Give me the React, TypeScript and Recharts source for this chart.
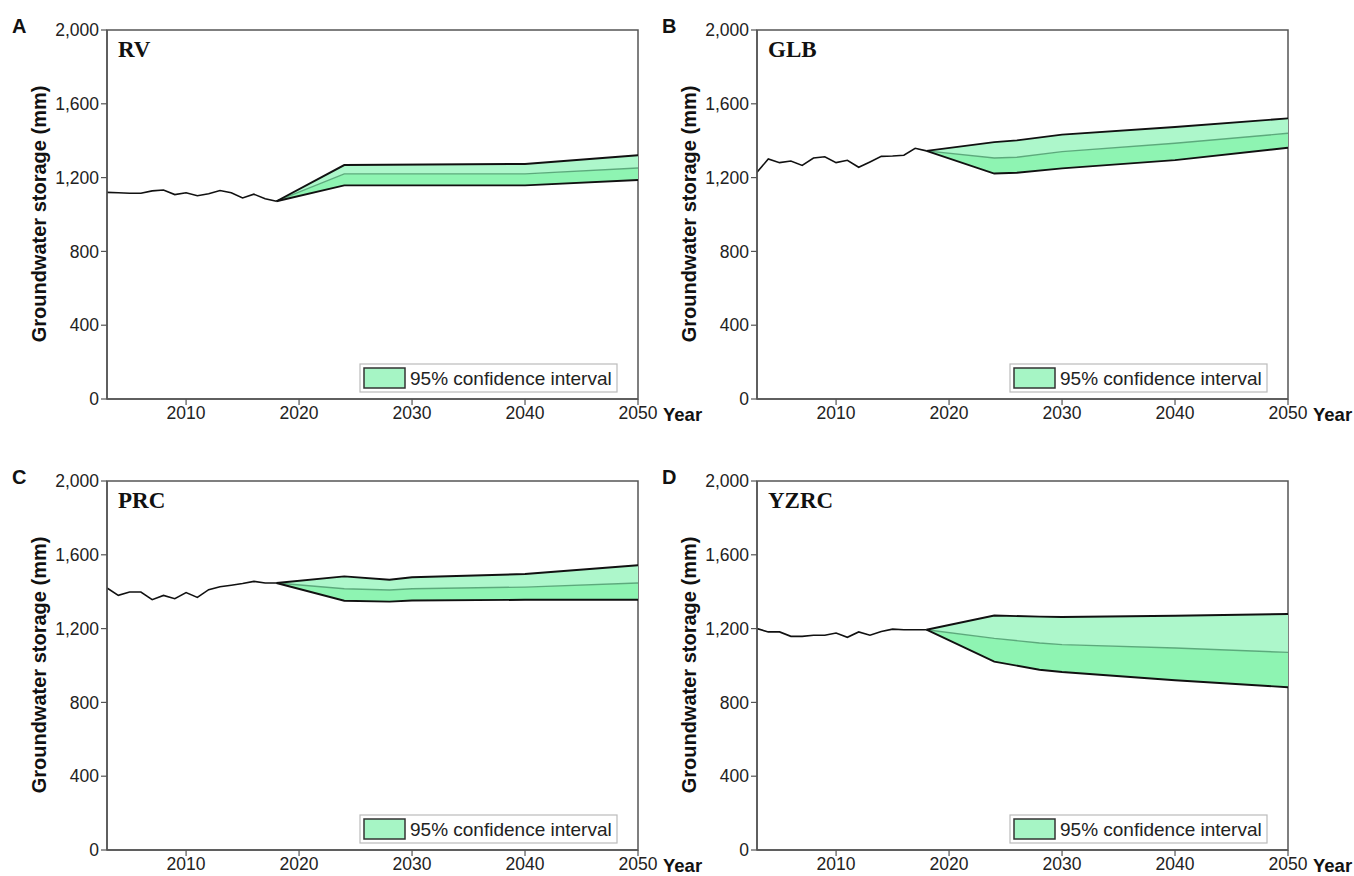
import React from 'react';
import { ComposedChart, Line, Area, XAxis, YAxis, ReferenceArea, Label } from 'recharts';

// ---------- data ----------
const HIST_YEARS = [2003, 2004, 2005, 2006, 2007, 2008, 2009, 2010, 2011, 2012, 2013, 2014, 2015, 2016, 2017, 2018];

const RV_HIST = [1120, 1118, 1115, 1115, 1128, 1133, 1108, 1118, 1102, 1112, 1130, 1118, 1090, 1110, 1085, 1072];
const RV_PROJ_YEARS = [2018, 2024, 2040, 2050];
const RV_UPPER = [1072, 1268, 1274, 1321];
const RV_MEAN = [1072, 1220, 1220, 1252];
const RV_LOWER = [1072, 1158, 1158, 1187];

const GLB_HIST = [1229, 1301, 1281, 1290, 1266, 1306, 1313, 1281, 1294, 1256, 1285, 1315, 1317, 1321, 1359, 1345];
const GLB_PROJ_YEARS = [2018, 2024, 2026, 2030, 2040, 2050];
const GLB_UPPER = [1345, 1392, 1402, 1433, 1474, 1521];
const GLB_MEAN = [1345, 1306, 1310, 1341, 1386, 1440];
const GLB_LOWER = [1345, 1222, 1226, 1250, 1295, 1362];

const PRC_HIST = [1420, 1380, 1398, 1398, 1357, 1380, 1362, 1395, 1369, 1411, 1427, 1435, 1444, 1456, 1447, 1447];
const PRC_PROJ_YEARS = [2018, 2024, 2028, 2030, 2040, 2050];
const PRC_UPPER = [1447, 1483, 1465, 1478, 1496, 1543];
const PRC_MEAN = [1447, 1416, 1409, 1416, 1425, 1447];
const PRC_LOWER = [1447, 1351, 1346, 1352, 1356, 1356];

const YZRC_HIST = [1200, 1182, 1182, 1158, 1158, 1164, 1164, 1176, 1153, 1182, 1164, 1184, 1197, 1194, 1194, 1194];
const YZRC_PROJ_YEARS = [2018, 2024, 2028, 2030, 2040, 2050];
const YZRC_UPPER = [1194, 1271, 1265, 1263, 1270, 1279];
const YZRC_MEAN = [1194, 1147, 1122, 1113, 1095, 1071];
const YZRC_LOWER = [1194, 1021, 977, 965, 920, 882];

const X_TICKS = [2010, 2020, 2030, 2040, 2050];
const Y_TICKS = [0, 400, 800, 1200, 1600, 2000];
const LEGEND_LABEL = '95% confidence interval';

// ---------- helpers ----------
type Row = {
  year: number;
  hist?: number;
  upper?: number;
  mean?: number;
  lower?: number;
  lowBand?: [number, number];
  highBand?: [number, number];
};

function buildRows(hist: number[], projYears: number[], upper: number[], mean: number[], lower: number[]): Row[] {
  const map = new Map<number, Row>();
  HIST_YEARS.forEach((y, i) => {
    map.set(y, { year: y, hist: hist[i] });
  });
  projYears.forEach((y, i) => {
    const r = map.get(y) || { year: y };
    r.upper = upper[i];
    r.mean = mean[i];
    r.lower = lower[i];
    r.lowBand = [lower[i], mean[i]];
    r.highBand = [mean[i], upper[i]];
    map.set(y, r);
  });
  return Array.from(map.values()).sort((a, b) => a.year - b.year);
}

const PANELS = [
  { letter: 'A', name: 'RV', ox: 0, oy: 0, rows: buildRows(RV_HIST, RV_PROJ_YEARS, RV_UPPER, RV_MEAN, RV_LOWER) },
  { letter: 'B', name: 'GLB', ox: 650, oy: 0, rows: buildRows(GLB_HIST, GLB_PROJ_YEARS, GLB_UPPER, GLB_MEAN, GLB_LOWER) },
  { letter: 'C', name: 'PRC', ox: 0, oy: 451, rows: buildRows(PRC_HIST, PRC_PROJ_YEARS, PRC_UPPER, PRC_MEAN, PRC_LOWER) },
  { letter: 'D', name: 'YZRC', ox: 650, oy: 451, rows: buildRows(YZRC_HIST, YZRC_PROJ_YEARS, YZRC_UPPER, YZRC_MEAN, YZRC_LOWER) },
];

const SANS = '"Liberation Sans", Arial, sans-serif';
const SERIF = '"Liberation Serif", "Times New Roman", serif';
const AXIS = '#555';
const LOW_FILL = '#8ef4b2';
const HIGH_FILL = '#adf7cb';
const MEAN_COLOR = '#5caa7c';

function Panel({ rows }: { rows: Row[] }) {
  return (
    <ComposedChart width={710} height={440} data={rows} margin={{ top: 30, right: 72, bottom: 11, left: 0 }}>
      <ReferenceArea x1={2003} x2={2050} y1={0} y2={2000} fill="none" stroke={AXIS} strokeWidth={1.5} ifOverflow="visible" />
      <XAxis
        dataKey="year"
        type="number"
        domain={[2003, 2050]}
        ticks={X_TICKS}
        allowDataOverflow
        height={30}
        tickSize={6}
        tickMargin={2}
        axisLine={{ stroke: AXIS, strokeWidth: 1.5 }}
        tickLine={{ stroke: AXIS, strokeWidth: 1.2 }}
        tick={{ fontSize: 17.5, fill: '#222', fontFamily: SANS }}
      >
        <Label value="Year" position="right" offset={25} style={{ fontSize: 18.5, fontWeight: 'bold', fill: '#111', fontFamily: SANS }} />
      </XAxis>
      <YAxis
        type="number"
        domain={[0, 2000]}
        ticks={Y_TICKS}
        allowDataOverflow
        width={107}
        tickSize={6}
        tickMargin={2}
        axisLine={{ stroke: AXIS, strokeWidth: 1.5 }}
        tickLine={{ stroke: AXIS, strokeWidth: 1.2 }}
        tick={{ fontSize: 17.5, fill: '#222', fontFamily: SANS }}
        tickFormatter={(v: number) => v.toLocaleString('en-US')}
      />
      <Area dataKey="lowBand" type="linear" fill={LOW_FILL} fillOpacity={1} stroke="none" dot={false} activeDot={false} isAnimationActive={false} />
      <Area dataKey="highBand" type="linear" fill={HIGH_FILL} fillOpacity={1} stroke="none" dot={false} activeDot={false} isAnimationActive={false} />
      <Line dataKey="mean" type="linear" stroke={MEAN_COLOR} strokeWidth={1.4} dot={false} activeDot={false} isAnimationActive={false} />
      <Line dataKey="upper" type="linear" stroke="#111" strokeWidth={1.9} dot={false} activeDot={false} isAnimationActive={false} />
      <Line dataKey="lower" type="linear" stroke="#111" strokeWidth={1.9} dot={false} activeDot={false} isAnimationActive={false} />
      <Line dataKey="hist" type="linear" stroke="#111" strokeWidth={1.6} dot={false} activeDot={false} isAnimationActive={false} />
    </ComposedChart>
  );
}

export default function App() {
  return (
    <div style={{ position: 'absolute', left: 0, top: 0, width: 1354, height: 876, background: '#fff' }}>
      {PANELS.map((p) => (
        <div key={p.letter} style={{ position: 'absolute', left: p.ox, top: p.oy }}>
          <Panel rows={p.rows} />
        </div>
      ))}
      <svg width={1354} height={876} style={{ position: 'absolute', left: 0, top: 0, pointerEvents: 'none' }}>
        {PANELS.map((p) => (
          <g key={p.letter} transform={`translate(${p.ox},${p.oy})`}>
            <text x={12} y={33} fontFamily={SANS} fontWeight="bold" fontSize={20} fill="#111">{p.letter}</text>
            <text x={118} y={57} fontFamily={SERIF} fontWeight="bold" fontSize={23} fill="#111">{p.name}</text>
            <text transform="translate(46,214) rotate(-90)" textAnchor="middle" fontFamily={SANS} fontWeight="bold" fontSize={20} fill="#111">
              Groundwater storage (mm)
            </text>
            <rect x={360} y={364} width={257} height={28} fill="#fff" stroke="#bbb" strokeWidth={1.2} />
            <rect x={364} y={368} width={41} height={20} fill="#a6f5c5" stroke="#333" strokeWidth={1.5} />
            <text x={410} y={385} fontFamily={SANS} fontSize={19} fill="#222">{LEGEND_LABEL}</text>
          </g>
        ))}
      </svg>
    </div>
  );
}
